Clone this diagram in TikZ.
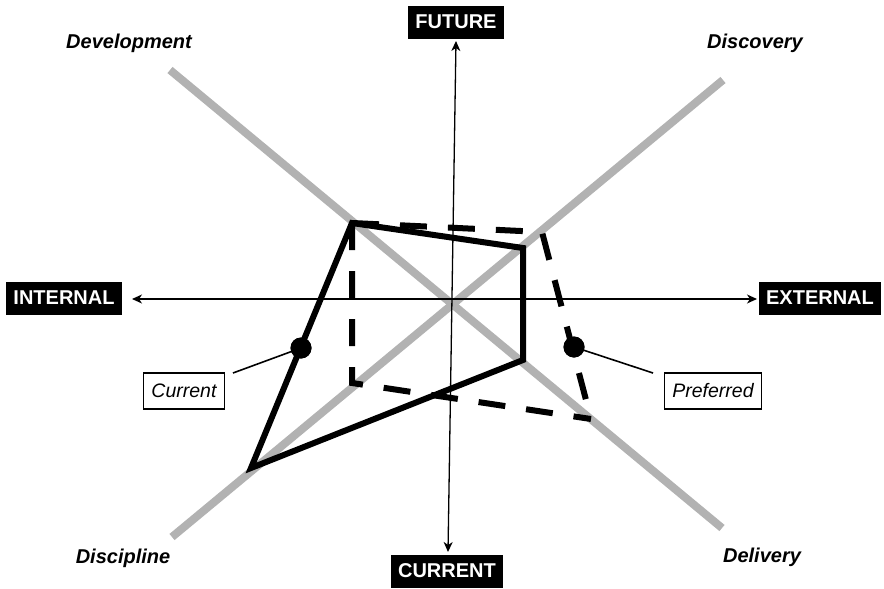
\documentclass[tikz,border=0pt]{standalone}
\usepackage{fontspec}
\setmainfont{Liberation Sans}
\usetikzlibrary{arrows.meta}
\definecolor{axisgray}{RGB}{178,178,178}
\tikzset{
  polebox/.style={fill=black, text=white, font=\fontsize{20}{24}\selectfont\bfseries,
    inner xsep=7pt, inner ysep=0pt, minimum height=33pt},
  quadlabel/.style={font=\fontsize{20}{24}\selectfont\bfseries\itshape},
  tagbox/.style={draw=black, line width=1.1pt, fill=white,
    font=\fontsize{19.5}{23}\selectfont\itshape, inner xsep=8pt, inner ysep=0pt,
    minimum height=36pt},
  diag/.style={draw=axisgray, line width=8pt},
  axis/.style={draw=black, line width=1.3pt, {Stealth[length=10pt,width=9pt,inset=3pt]}-{Stealth[length=10pt,width=9pt,inset=3pt]}},
  profile/.style={draw=black, line width=6pt, line join=miter},
  preferred/.style={draw=black, line width=6pt, dash pattern=on 27pt off 21pt},
  marker/.style={circle, fill=black, inner sep=0pt, minimum size=21pt},
  leader/.style={draw=black, line width=1.6pt}
}
\begin{document}
\begin{tikzpicture}[x=1pt, y=-1pt]
  \useasboundingbox (0,0) rectangle (884,589);

  % diagonal guide lines
  \coordinate (dUL) at (170,70);
  \coordinate (dLR) at (722,528);
  \coordinate (dUR) at (723,80);
  \coordinate (dLL) at (172,537);
  \draw[diag] (dUL) -- (dLR);
  \draw[diag] (dUR) -- (dLL);

  % pole labels
  \node[polebox] (future)   at (456,22)  {FUTURE};
  \node[polebox] (current)  at (447,571) {CURRENT};
  \node[polebox] (internal) at (64,298)  {INTERNAL};
  \node[polebox] (external) at (820,298) {EXTERNAL};

  % main axes
  \coordinate (futTip) at (456,41);
  \coordinate (curTip) at (448,552);
  \coordinate (intTip) at (132,299);
  \coordinate (extTip) at (757,299);
  \draw[axis] (curTip) -- (futTip);
  \draw[axis] (intTip) -- (extTip);

  % quadrant labels
  \node[quadlabel] (development) at (129,43)  {Development};
  \node[quadlabel] (discovery)   at (755,43)  {Discovery};
  \node[quadlabel] (discipline)  at (123,558) {Discipline};
  \node[quadlabel] (delivery)    at (762,557) {Delivery};

  % preferred profile (dashed)
  \coordinate (pA) at (352,223);
  \coordinate (pB) at (542,232);
  \coordinate (pC) at (591,419);
  \coordinate (pD) at (352,383);
  \draw[preferred] (pA) -- (pB) -- (pC);
  \draw[preferred] (pA) -- (pD) -- (pC);

  % current profile (solid)
  \coordinate (cA) at (352,223);
  \coordinate (cB) at (523,248);
  \coordinate (cC) at (523,360);
  \coordinate (cD) at (251,468);
  \draw[profile] (cA) -- (cB) -- (cC) -- (cD) -- cycle;

  % tags
  \node[tagbox] (curtag)  at (184,391) {Current};
  \node[tagbox] (preftag) at (713,391) {Preferred};
  \coordinate (curEnd)  at (233,373);
  \coordinate (prefEnd) at (653,373);
  \node[marker] (curdot)  at (301,348) {};
  \node[marker] (prefdot) at (574,347) {};
  \draw[leader] (curdot.center) -- (curEnd);
  \draw[leader] (prefdot.center) -- (prefEnd);
  \node[marker] at (curdot) {};
  \node[marker] at (prefdot) {};
\end{tikzpicture}
\end{document}
